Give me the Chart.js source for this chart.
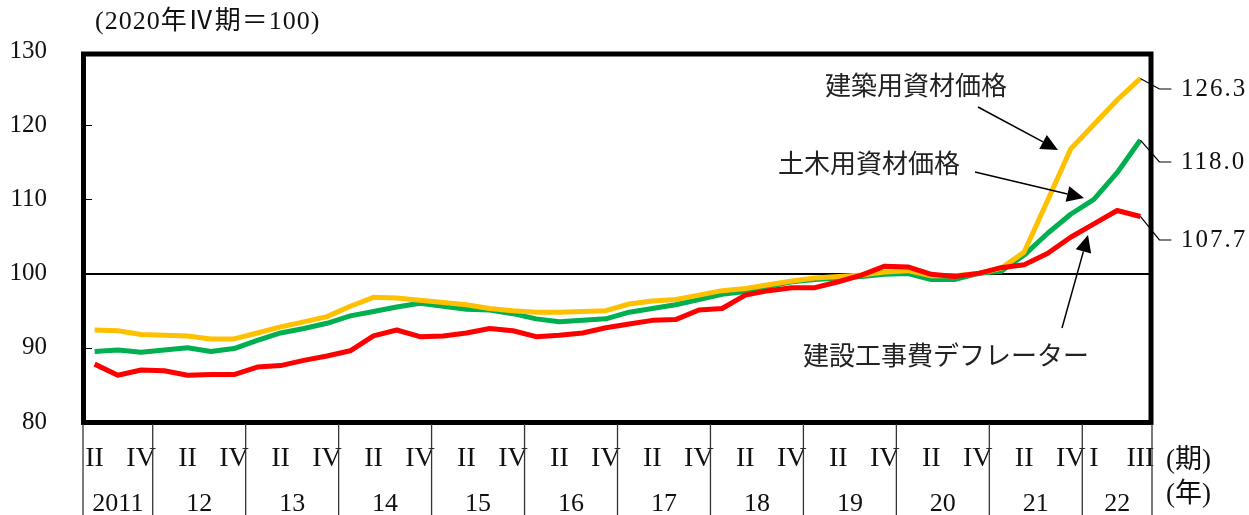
<!DOCTYPE html>
<html><head><meta charset="utf-8">
<script src="https://cdn.jsdelivr.net/npm/chart.js@4/dist/chart.umd.min.js"></script>
<style>html,body{margin:0;padding:0;background:#fff}#wrap{width:1249px;height:515px;position:relative}</style>
</head><body><div id="wrap"><canvas id="c"></canvas></div>
<script>
const categories = [
 "2011Q2","2011Q3","2011Q4",
 "2012Q1","2012Q2","2012Q3","2012Q4",
 "2013Q1","2013Q2","2013Q3","2013Q4",
 "2014Q1","2014Q2","2014Q3","2014Q4",
 "2015Q1","2015Q2","2015Q3","2015Q4",
 "2016Q1","2016Q2","2016Q3","2016Q4",
 "2017Q1","2017Q2","2017Q3","2017Q4",
 "2018Q1","2018Q2","2018Q3","2018Q4",
 "2019Q1","2019Q2","2019Q3","2019Q4",
 "2020Q1","2020Q2","2020Q3","2020Q4",
 "2021Q1","2021Q2","2021Q3","2021Q4",
 "2022Q1","2022Q2","2022Q3"];
const quarterTickLabels = [
 "II","","IV",
 "","II","","IV", "","II","","IV", "","II","","IV", "","II","","IV", "","II","","IV",
 "","II","","IV", "","II","","IV", "","II","","IV", "","II","","IV", "","II","","IV",
 "I","","III"];
const years = ["2011","2012","2013","2014","2015","2016","2017","2018","2019","2020","2021","2022"];
const yearLabels = ["2011","12","13","14","15","16","17","18","19","20","21","22"];
const yTicks = [80,90,100,110,120,130];

const buildingMaterials = [92.4,92.3,91.8,91.7,91.6,91.2,91.2,92.0,92.8,93.5,94.2,95.6,96.8,96.7,96.4,96.1,95.8,95.3,95.0,94.8,94.8,94.9,95.0,95.9,96.3,96.5,97.1,97.7,98.0,98.5,99.0,99.4,99.6,99.8,100.2,100.4,99.7,99.7,100.0,100.7,102.9,109.8,116.8,120.1,123.4,126.3];
const civilMaterials = [89.5,89.7,89.4,89.7,90.0,89.5,89.9,91.0,92.0,92.6,93.3,94.3,94.9,95.5,96.0,95.6,95.2,95.1,94.6,93.9,93.5,93.7,93.9,94.8,95.3,95.8,96.5,97.2,97.6,98.3,98.9,99.2,99.4,99.6,99.9,100.0,99.2,99.2,100.0,100.3,102.5,105.4,108.0,110.0,113.6,118.0];
const deflator = [87.8,86.3,87.0,86.9,86.3,86.4,86.4,87.4,87.6,88.3,88.9,89.6,91.6,92.4,91.5,91.6,92.0,92.6,92.3,91.5,91.7,92.0,92.7,93.2,93.7,93.8,95.1,95.3,97.1,97.7,98.1,98.1,98.9,99.8,101.0,100.9,99.9,99.6,100.0,100.8,101.2,102.7,104.9,106.7,108.5,107.7];

const seriesNames = ["建築用資材価格","土木用資材価格","建設工事費デフレーター"];
const lastValueLabels = ["126.3","118.0","107.7"];
const titleText = "(2020年Ⅳ期＝100)";

const SERIF = "'Liberation Serif','Noto Sans CJK JP'";
const CJK = "'Noto Sans CJK JP'";

const decor = {
  id: 'decor',
  afterDatasetsDraw(chart) {
    const {ctx, chartArea: a, scales: {x, y}} = chart;
    const n = categories.length;
    const bw = (a.right - a.left) / n;
    ctx.save();
    // inner ticks on left axis
    ctx.strokeStyle = '#000'; ctx.lineWidth = 1;
    yTicks.forEach(v => {
      if (v > 80 && v < 130) {
        const py = Math.round(y.getPixelForValue(v)) + 0.5;
        ctx.beginPath(); ctx.moveTo(a.left, py); ctx.lineTo(a.left + 9, py); ctx.stroke();
      }
    });
    // frame
    ctx.lineWidth = 5; ctx.strokeStyle = '#000';
    ctx.strokeRect(a.left + 0.5, a.top + 3, a.right - a.left - 1.5, a.bottom - a.top - 2.5);
    // year separators
    ctx.lineWidth = 1.3; ctx.strokeStyle = '#333';
    const seps = years.map(yr => x.getPixelForValue(categories.findIndex(c => c.startsWith(yr))) - bw / 2);
    seps.push(x.getPixelForValue(n - 1) + bw / 2);
    seps.forEach(px => {
      ctx.beginPath(); ctx.moveTo(px, a.bottom + 2); ctx.lineTo(px, chart.height); ctx.stroke();
    });
    // year labels
    ctx.fillStyle = '#111'; ctx.font = "26px " + SERIF;
    ctx.textAlign = 'center'; ctx.textBaseline = 'middle';
    years.forEach((yr, k) => {
      const idx = categories.map((c, i) => c.startsWith(yr) ? i : -1).filter(i => i >= 0);
      const cx = (x.getPixelForValue(idx[0]) + x.getPixelForValue(idx[idx.length - 1])) / 2;
      ctx.fillText(yearLabels[k], cx, 504);
    });
    // unit labels
    ctx.textAlign = 'left';
    ctx.font = "27px " + SERIF;
    ctx.fillText("(期)", 1166, 461);
    ctx.fillText("(年)", 1166, 495);
    // title
    ctx.font = "26px " + SERIF;
    if ('letterSpacing' in ctx) ctx.letterSpacing = '1px';
    ctx.fillText(titleText, 95, 22);
    if ('letterSpacing' in ctx) ctx.letterSpacing = '0px';
    // series annotations
    ctx.font = "26px " + CJK; ctx.fillStyle = '#222'; ctx.textAlign = 'center';
    ctx.fillText(seriesNames[0], 916, 85);
    ctx.fillText(seriesNames[1], 869, 163);
    ctx.fillText(seriesNames[2], 946, 355);
    const arrow = (x1, y1, x2, y2) => {
      const ang = Math.atan2(y2 - y1, x2 - x1), L = 17, W = 8;
      const bx = x2 - L * Math.cos(ang), by = y2 - L * Math.sin(ang);
      ctx.strokeStyle = '#000'; ctx.lineWidth = 1.5;
      ctx.beginPath(); ctx.moveTo(x1, y1); ctx.lineTo(bx, by); ctx.stroke();
      ctx.fillStyle = '#000';
      ctx.beginPath(); ctx.moveTo(x2, y2);
      ctx.lineTo(bx + W * Math.sin(ang), by - W * Math.cos(ang));
      ctx.lineTo(bx - W * Math.sin(ang), by + W * Math.cos(ang));
      ctx.closePath(); ctx.fill();
    };
    arrow(978, 107, 1058, 150);
    arrow(975, 172, 1084, 198);
    arrow(1062, 328, 1088, 235);
    // last value leaders and labels
    const lastIdx = n - 1;
    const lx = x.getPixelForValue(lastIdx);
    const series = [buildingMaterials, civilMaterials, deflator];
    const labelY = [89, 162, 240];
    ctx.strokeStyle = '#000'; ctx.lineWidth = 1.2;
    ctx.fillStyle = '#111'; ctx.textAlign = 'left'; ctx.font = "25px " + SERIF;
    if ('letterSpacing' in ctx) ctx.letterSpacing = '2px';
    series.forEach((s, k) => {
      const py = y.getPixelForValue(s[lastIdx]);
      ctx.beginPath(); ctx.moveTo(lx, py); ctx.lineTo(lx + 19, labelY[k]); ctx.lineTo(lx + 31, labelY[k]); ctx.stroke();
      ctx.fillText(lastValueLabels[k], 1181, labelY[k]);
    });
    ctx.restore();
  }
};

new Chart(document.getElementById('c'), {
  type: 'line',
  data: {
    labels: categories,
    datasets: [
      {label: seriesNames[2], data: deflator, borderColor: '#FF0000', order: 0},
      {label: seriesNames[0], data: buildingMaterials, borderColor: '#FFC000', order: 1},
      {label: seriesNames[1], data: civilMaterials, borderColor: '#00B050', order: 2}
    ].map(d => Object.assign(d, {borderWidth: 5, pointRadius: 0, tension: 0, fill: false, borderJoinStyle: 'round'}))
  },
  options: {
    responsive: true, maintainAspectRatio: false, animation: false,
    layout: {padding: {left: 0, right: 97, top: 47, bottom: 0}},
    plugins: {legend: {display: false}, tooltip: {enabled: false}},
    scales: {
      x: {
        type: 'category', offset: true,
        grid: {display: false, drawTicks: false, offset: true},
        border: {display: false},
        afterFit: s => { s.height = 93; },
        ticks: {
          autoSkip: false, maxRotation: 0, minRotation: 0, padding: 20,
          color: '#111', font: {family: SERIF, size: 28},
          callback: (v, i) => quarterTickLabels[i]
        }
      },
      y: {
        min: 80, max: 130,
        afterFit: s => { s.width = 83; },
        afterBuildTicks: s => { s.ticks = yTicks.map(v => ({value: v})); },
        grid: {drawTicks: false, lineWidth: 2, color: c => (c.tick && c.tick.value === 100) ? '#000' : 'rgba(0,0,0,0)'},
        border: {display: false},
        ticks: {padding: 36, color: '#111', font: {family: SERIF, size: 25}}
      }
    }
  },
  plugins: [decor]
});
</script>
</body></html>
